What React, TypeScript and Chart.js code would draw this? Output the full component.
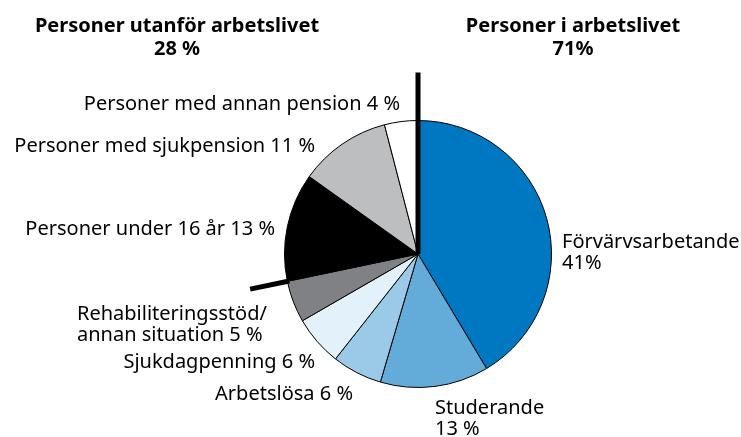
import React, { useEffect, useRef } from "react";
import { Chart, registerables } from "chart.js";

Chart.register(...registerables);

const categories = [
  "Förvärvsarbetande",
  "Studerande",
  "Arbetslösa",
  "Sjukdagpenning",
  "Rehabiliteringsstöd/annan situation",
  "Personer under 16 år",
  "Personer med sjukpension",
  "Personer med annan pension",
];
const values = [41, 13, 6, 6, 5, 13, 11, 4];
const sliceLabels = [
  ["Förvärvsarbetande", "41%"],
  ["Studerande", "13 %"],
  ["Arbetslösa 6 %"],
  ["Sjukdagpenning 6 %"],
  ["Rehabiliteringsstöd/", "annan situation 5 %"],
  ["Personer under 16 år 13 %"],
  ["Personer med sjukpension 11 %"],
  ["Personer med annan pension 4 %"],
];
const groupTitles = [
  ["Personer utanför arbetslivet", "28 %"],
  ["Personer i arbetslivet", "71%"],
];
const colors = [
  "#0077c1",
  "#63acd9",
  "#9bcae8",
  "#e3f1fa",
  "#808184",
  "#000000",
  "#bdbec0",
  "#ffffff",
];

const FONT = '"Noto Sans", sans-serif';

const overlayPlugin = {
  id: "overlay",
  afterDatasetsDraw(chart: any) {
    const ctx = chart.ctx as CanvasRenderingContext2D;
    const meta = chart.getDatasetMeta(0);
    const arcs = meta.data as any[];
    const cx = arcs[0].x;
    const cy = arcs[0].y;
    const r = arcs[0].outerRadius;
    ctx.save();
    ctx.strokeStyle = "#000";
    ctx.lineWidth = 5;
    ctx.lineCap = "butt";
    const ray = (a: number, r0: number, r1: number) => {
      ctx.beginPath();
      ctx.moveTo(cx + Math.cos(a) * r0, cy + Math.sin(a) * r0);
      ctx.lineTo(cx + Math.cos(a) * r1, cy + Math.sin(a) * r1);
      ctx.stroke();
    };
    ray(arcs[0].startAngle, 0, r + 48);
    ray(arcs[4].endAngle, r - 2, r + 38);

    // slice labels
    const place: { x: number; y: number; align: CanvasTextAlign }[] = [
      { x: cx + 144, y: 248, align: "left" },
      { x: cx + 17, y: 414, align: "left" },
      { x: cx - 65, y: 400, align: "right" },
      { x: cx - 103, y: 368, align: "right" },
      { x: cx - 341, y: 320, align: "left" },
      { x: cx - 143, y: 235, align: "right" },
      { x: cx - 103, y: 152, align: "right" },
      { x: cx - 18, y: 110, align: "right" },
    ];
    ctx.fillStyle = "#000";
    ctx.font = `20px ${FONT}`;
    ctx.textBaseline = "alphabetic";
    sliceLabels.forEach((lines, i) => {
      const p = place[i];
      ctx.textAlign = p.align;
      lines.forEach((t, j) => ctx.fillText(t, p.x, p.y + j * 21));
    });

    // group titles
    ctx.font = `bold 20px ${FONT}`;
    ctx.textAlign = "center";
    const tx = [177, 573];
    groupTitles.forEach((lines, i) => {
      lines.forEach((t, j) => ctx.fillText(t, tx[i], 32 + j * 23));
    });
    ctx.restore();
  },
};

export default function App() {
  const ref = useRef<HTMLCanvasElement>(null);
  useEffect(() => {
    const canvas = ref.current!;
    const chart = new Chart(canvas, {
      type: "pie",
      data: {
        labels: categories,
        datasets: [
          {
            data: values,
            backgroundColor: colors,
            borderColor: "#000",
            borderWidth: 1,
          },
        ],
      },
      options: {
        animation: false,
        responsive: false,
        devicePixelRatio: 1,
        layout: { padding: { left: 284, right: 189, top: 120, bottom: 49 } },
        plugins: {
          legend: { display: false },
          tooltip: { enabled: false },
          title: { display: false },
        },
      },
      plugins: [overlayPlugin],
    });
    return () => chart.destroy();
  }, []);
  return (
    <div style={{ position: "absolute", left: 0, top: 0, width: 741, height: 437, background: "#fff" }}>
      <canvas ref={ref} width={741} height={437} style={{ width: 741, height: 437, display: "block" }} />
    </div>
  );
}
